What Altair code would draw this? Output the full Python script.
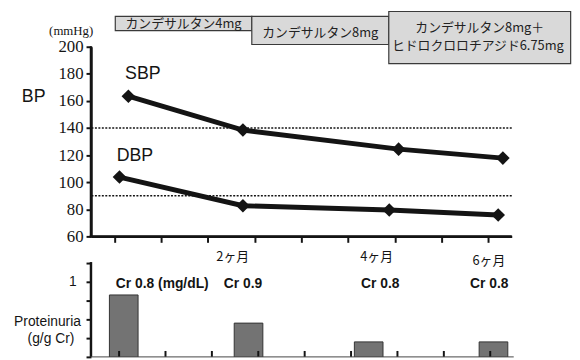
import altair as alt
import pandas as pd

# ---------------- data ----------------
t_sbp = [0.30, 2.75, 6.08, 8.31]
sbp = [163.5, 138.5, 124.4, 117.8]
t_dbp = [0.11, 2.75, 5.88, 8.21]
dbp = [103.8, 82.6, 79.5, 75.8]
ref_lines = [140, 90]
axis_ticks = list(range(9))
bp_ticks = [60, 80, 100, 120, 140, 160, 180, 200]
series_names = ["SBP", "DBP"]
series_label_t = [0.61, 0.44]
series_label_bp = [179.6, 119.1]

regimen_line1 = ["カンデサルタン4mg", "カンデサルタン8mg", "カンデサルタン8mg＋"]
regimen_line2 = ["", "", "ヒドロクロロチアジド6.75mg"]
regimen_start = [0.02, 2.94, 5.87]
regimen_end = [2.94, 5.87, 9.76]

t_prot = [0.10, 2.79, 5.38, 8.07]
prot = [0.86, 0.56, 0.36, 0.36]
prot_ticks = [0.2, 0.4, 0.6, 0.8, 1, 1.2]
cr_labels = ["Cr 0.8 (mg/dL)", "Cr 0.9", "Cr 0.8", "Cr 0.8"]
cr_at = [0.93, 2.67, 5.63, 7.98]
month_labels = ["2ヶ月", "4ヶ月", "6ヶ月"]
month_at = [2.45, 5.55, 7.97]

INK = "#141414"
SANS = "Liberation Sans"
SERIF = "Liberation Serif"
JP = "Noto Sans CJK JP"

TOP_W, TOP_H = 426, 192
BOT_W, BOT_H = 428, 95

one = pd.DataFrame({"_": [0]})

# ---------------- top panel (BP) ----------------
xs_top = alt.Scale(domain=[-0.5, 8.5], nice=False, zero=False)
ys_top = alt.Scale(domain=[60, 200], nice=False, zero=False)
xa_top = alt.Axis(values=axis_ticks, labels=False, title=None, grid=False, domain=True,
                  domainColor=INK, domainWidth=2.5, tickSize=6, tickWidth=2, tickColor=INK, zindex=1)
ya_top = alt.Axis(values=bp_ticks, title=None, grid=False, domain=True, domainColor=INK, domainWidth=2.5,
                  labelFont=SERIF, labelFontSize=17, labelColor=INK, labelPadding=3, labelOverlap=False,
                  tickSize=5, tickWidth=2, tickColor=INK, zindex=1)

bp_df = pd.DataFrame({
    "t": t_sbp + t_dbp,
    "bp": sbp + dbp,
    "s": ["SBP"] * len(sbp) + ["DBP"] * len(dbp),
})
lab_df = pd.DataFrame({"t": series_label_t, "bp": series_label_bp, "s": series_names})

X_TOP = alt.X("t:Q", scale=xs_top, axis=xa_top)
Y_TOP = alt.Y("bp:Q", scale=ys_top, axis=ya_top)

base = alt.Chart(bp_df)
lines = base.mark_line(color=INK, strokeWidth=5).encode(x=X_TOP, y=Y_TOP, detail="s:N")
points = base.mark_point(shape="diamond", filled=True, size=190, color=INK, opacity=1).encode(
    x=X_TOP, y=Y_TOP, detail="s:N")
series_lab = alt.Chart(lab_df).mark_text(font=SANS, fontSize=18, color=INK).encode(
    x=X_TOP, y=Y_TOP, text="s:N")

rules = alt.Chart(pd.DataFrame({"bp": ref_lines})).mark_rule(
    strokeDash=[2, 1.5], strokeWidth=1.5, color=INK).encode(y=Y_TOP)

# axis lines drawn as thin rectangles on top of everything
y_line = alt.Chart(one).mark_rect(color=INK).encode(
    x=alt.value(-1.25), x2=alt.value(1.25), y=alt.value(-0.5), y2=alt.value(TOP_H + 1))
x_line = alt.Chart(one).mark_rect(color=INK).encode(
    x=alt.value(-1.25), x2=alt.value(TOP_W), y=alt.value(TOP_H - 1.25), y2=alt.value(TOP_H + 1.25))

box_y = [(-30.7, -16.3), (-30.7, -2.3), (-35.7, 17)]
text_y = [(-23, None), (-14, None), (-19, -0.7)]
boxes = []
for i in range(len(regimen_start)):
    d = pd.DataFrame({"t": [regimen_start[i]], "b": [regimen_end[i]]})
    boxes.append(alt.Chart(d).mark_rect(fill="#d9d9d9", stroke="#3a3a3a", strokeWidth=1.2).encode(
        x=X_TOP, x2="b:Q", y=alt.value(box_y[i][0]), y2=alt.value(box_y[i][1])))
    mid = (regimen_start[i] + regimen_end[i]) / 2
    boxes.append(alt.Chart(pd.DataFrame({"t": [mid]})).mark_text(font=JP, fontSize=13, color="#222").encode(
        x=X_TOP, y=alt.value(text_y[i][0]), text=alt.value(regimen_line1[i])))
    if regimen_line2[i]:
        boxes.append(alt.Chart(pd.DataFrame({"t": [mid - 0.04]})).mark_text(
            font=JP, fontSize=13, color="#222").encode(
            x=X_TOP, y=alt.value(text_y[i][1]), text=alt.value(regimen_line2[i])))

bp_lab = alt.Chart(one).mark_text(font=SANS, fontSize=18, color=INK).encode(
    x=alt.value(-58), y=alt.value(51), text=alt.value("BP"))
unit_lab = alt.Chart(one).mark_text(font=SERIF, fontSize=13, color=INK).encode(
    x=alt.value(-20), y=alt.value(-16), text=alt.value("(mmHg)"))
anchor = alt.Chart(one).mark_rule(opacity=0).encode(
    x=alt.value(-84), x2=alt.value(-83), y=alt.value(-36), y2=alt.value(-36))

top = alt.layer(lines, anchor, rules, *boxes, points, series_lab, bp_lab, unit_lab,
                y_line, x_line).properties(width=TOP_W, height=TOP_H)

# ---------------- bottom panel (proteinuria) ----------------
xs_bot = alt.Scale(domain=[-0.5, 8.4], nice=False, zero=False)
ys_bot = alt.Scale(domain=[0.2, 1.2], nice=False, zero=False)
xa_bot = alt.Axis(title=None, labels=False, ticks=False, grid=False, domain=False)
ya_bot = alt.Axis(values=prot_ticks, labelExpr="datum.value == 1 ? '1' : ''", title=None, grid=False,
                  labelFont=SANS, labelFontSize=14, labelColor=INK, labelPadding=10, labelOverlap=False,
                  tickSize=5, tickWidth=2, tickColor=INK, domain=False)
X_BOT = alt.X("t:Q", scale=xs_bot, axis=xa_bot)

prot_df = pd.DataFrame({"t": t_prot, "p": prot})
bars = alt.Chart(prot_df).mark_bar(size=29, fill="#737373", stroke="#333", strokeWidth=1, clip=True).encode(
    x=X_BOT, y=alt.Y("p:Q", scale=ys_bot, axis=ya_bot))

bot_ticks = alt.Chart(pd.DataFrame({"t": axis_ticks})).mark_rule(color=INK, strokeWidth=2).encode(
    x=X_BOT, y=alt.value(BOT_H - 6), y2=alt.value(BOT_H))

by_line = alt.Chart(one).mark_rule(color=INK, strokeWidth=2.5).encode(
    x=alt.value(0), y=alt.value(-1), y2=alt.value(BOT_H))
bx_line = alt.Chart(one).mark_rule(color="#444", strokeWidth=1).encode(
    x=alt.value(0), x2=alt.value(BOT_W), y=alt.value(BOT_H))

cr = alt.Chart(pd.DataFrame({"t": cr_at, "l": cr_labels})).mark_text(
    font=SANS, fontWeight="bold", fontSize=14, color=INK).encode(
    x=X_BOT, y=alt.value(21), text="l:N")

month_y = [-6, -6, -2]
months = []
for lab, at, yy in zip(month_labels, month_at, month_y):
    months.append(alt.Chart(pd.DataFrame({"t": [at], "l": [lab]})).mark_text(
        font=JP, fontSize=13, color=INK).encode(x=X_BOT, y=alt.value(yy), text="l:N"))

prot_lab1 = alt.Chart(one).mark_text(font=SANS, fontSize=14, color=INK).encode(
    x=alt.value(-44), y=alt.value(60), text=alt.value("Proteinuria"))
prot_lab2 = alt.Chart(one).mark_text(font=SANS, fontSize=14, color=INK).encode(
    x=alt.value(-40.5), y=alt.value(77), text=alt.value("(g/g Cr)"))

bottom = alt.layer(bars, bot_ticks, cr, *months, prot_lab1, prot_lab2,
                   by_line, bx_line).properties(width=BOT_W, height=BOT_H)

chart = alt.vconcat(top, bottom, spacing=27, bounds="flush").properties(
    padding={"left": 0, "top": 0, "right": 0, "bottom": 0}
).configure_view(stroke=None)

chart.save("out.html", embed_options={"renderer": "svg", "actions": False})
